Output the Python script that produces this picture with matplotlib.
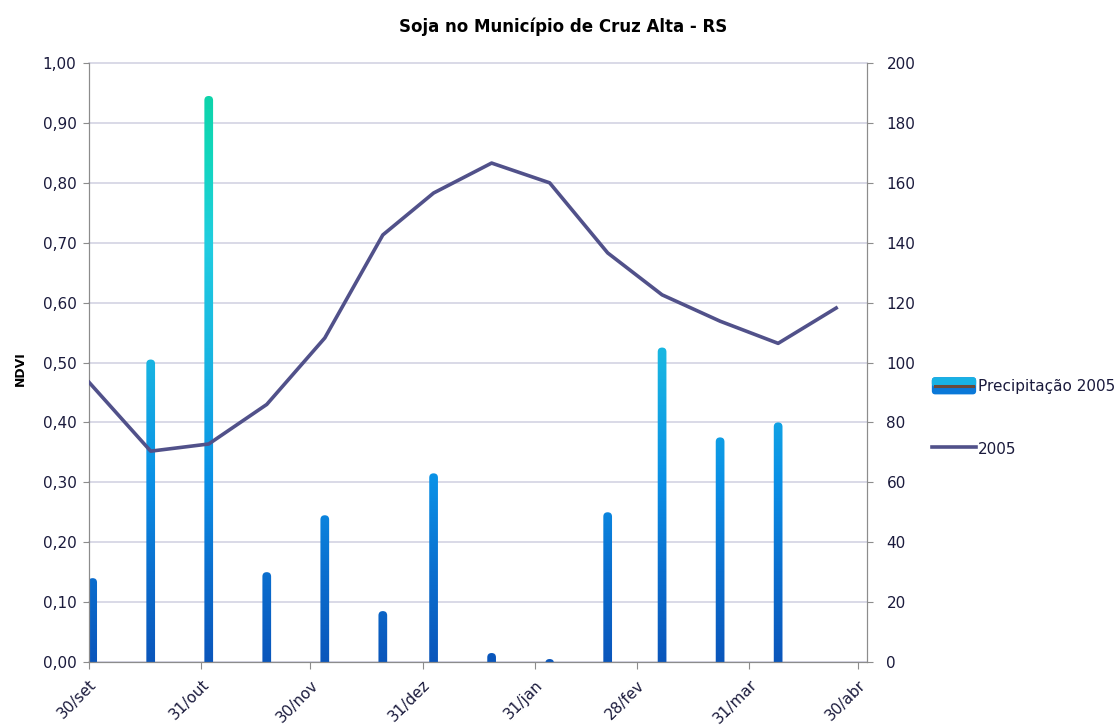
import numpy as np
import pandas as pd
import matplotlib
matplotlib.use('Agg')
import matplotlib.pyplot as plt
import matplotlib.dates as mdates
from matplotlib.patches import FancyBboxPatch
from matplotlib.lines import Line2D
from matplotlib.colors import LinearSegmentedColormap

plt.rcParams['font.family'] = ['DejaVu Sans']

# --- dados ---
ndvi_datas = pd.to_datetime(['2004-09-30', '2004-10-17', '2004-11-02', '2004-11-18', '2004-12-04',
                             '2004-12-20', '2005-01-03', '2005-01-19', '2005-02-04', '2005-02-20',
                             '2005-03-07', '2005-03-23', '2005-04-08', '2005-04-24'])
ndvi_2005 = [0.467, 0.352, 0.364, 0.430, 0.541, 0.713, 0.783, 0.833, 0.800, 0.683,
             0.613, 0.569, 0.532, 0.591]

chuva_datas = pd.to_datetime(['2004-10-01', '2004-10-17', '2004-11-02', '2004-11-18', '2004-12-04',
                              '2004-12-20', '2005-01-03', '2005-01-19', '2005-02-04', '2005-02-20',
                              '2005-03-07', '2005-03-23', '2005-04-08'])
chuva_2005 = [28, 101, 189, 30, 49, 17, 63, 3, 1, 50, 105, 75, 80]

tick_datas = pd.to_datetime(['2004-09-30', '2004-10-31', '2004-11-30', '2004-12-31',
                             '2005-01-31', '2005-02-28', '2005-03-31', '2005-04-30'])
tick_labels = ['30/set', '31/out', '30/nov', '31/dez', '31/jan', '28/fev', '31/mar', '30/abr']

ndvi_ticks = np.arange(0, 1.01, 0.1)
chuva_ticks = np.arange(0, 201, 20)

cor_linha = '#51518a'
cor_eixo = '#8c8c8c'
cor_texto = '#1a1a3c'
cor_grade = '#cfcfe0'

gradiente = LinearSegmentedColormap.from_list('chuva', [
    (0.00, '#0a56bb'), (0.15, '#0a6fcf'), (0.30, '#0a90e6'), (0.50, '#18b4e2'),
    (0.70, '#20cde0'), (0.85, '#12d6bc'), (1.00, '#0cd2a0')])

fig = plt.figure(figsize=(11.2, 7.27), dpi=100)
ax = fig.add_axes([0.0795, 0.0894, 0.6946, 0.8239])
ax2 = ax.twinx()
ax.set_zorder(ax2.get_zorder() + 1)
ax.patch.set_visible(False)

x0 = mdates.date2num(pd.Timestamp('2004-09-30'))
x1 = mdates.date2num(pd.Timestamp('2005-05-02 12:00'))
ax.set_xlim(x0, x1)
ax.set_ylim(0, 1)
ax2.set_ylim(0, 200)

# grade no eixo da direita (fica atras das barras)
ax2.set_axisbelow(True)
ax2.yaxis.grid(True, color=cor_grade, lw=1.1)
ax2.set_yticks(chuva_ticks)
for g in ax2.get_ygridlines():
    g.set_clip_on(False)

# barras de precipitacao com gradiente e topo arredondado
barras = ax2.bar(chuva_datas, chuva_2005, width=2.4, color='none', edgecolor='none')
p0 = ax2.transData.transform((x0, 0))
p1 = ax2.transData.transform((x0 + 1, 1))
aspecto = (p1[0] - p0[0]) / (p1[1] - p0[1])
grad = np.linspace(0, 1, 256).reshape(-1, 1)
for b in barras:
    bx, bw, bh = b.get_x(), b.get_width(), b.get_height()
    forma = FancyBboxPatch((bx, -10), bw, bh + 10,
                           boxstyle=f"round,pad=0,rounding_size={bw / 2}",
                           mutation_aspect=aspecto, facecolor='none', edgecolor='none')
    ax2.add_patch(forma)
    ax2.imshow(grad, extent=(x0, x1, 0, 200), origin='lower', aspect='auto',
               cmap=gradiente, vmin=0, vmax=1, clip_path=forma, zorder=2)
ax2.set_xlim(x0, x1)
ax2.set_ylim(0, 200)

# linha NDVI
ax.plot(ndvi_datas, ndvi_2005, color=cor_linha, lw=2.6, zorder=5)

# eixos
for a in (ax, ax2):
    for s in a.spines.values():
        s.set_color(cor_eixo)
    a.spines['top'].set_visible(False)

ax.set_yticks(ndvi_ticks)
ax.set_yticklabels([f"{v:.2f}".replace('.', ',') for v in ndvi_ticks])
ax.tick_params(axis='y', colors=cor_eixo, labelcolor=cor_texto, labelsize=11, length=4, pad=5)
ax2.tick_params(axis='y', colors=cor_eixo, labelcolor=cor_texto, labelsize=11, length=4, pad=10)

ax.set_xticks(mdates.date2num(tick_datas))
ax.set_xticklabels(tick_labels, rotation=45, ha='right', va='top', rotation_mode='anchor')
ax.tick_params(axis='x', colors=cor_eixo, labelcolor=cor_texto, labelsize=11, length=5, pad=6)
ax2.tick_params(axis='x', bottom=False, labelbottom=False)

ax.set_ylabel('NDVI', fontweight='bold', fontsize=9, color='black')
ax.yaxis.set_label_coords(-0.08, 0.49)

fig.text(0.503, 0.963, 'Soja no Município de Cruz Alta - RS', ha='center', va='center',
         fontsize=12, fontweight='bold', color='black')


# legenda: caixa com gradiente simplificado + traco marrom (como no Excel)
class HandlerChuva:
    def legend_artist(self, legend, orig_handle, fontsize, handlebox):
        x, y = handlebox.xdescent, handlebox.ydescent
        w, h = handlebox.width, handlebox.height
        base = FancyBboxPatch((-x, -y), w, h, boxstyle="round,pad=0,rounding_size=2.5",
                              facecolor='#0a78d8', edgecolor='none',
                              transform=handlebox.get_transform())
        topo = FancyBboxPatch((-x, -y + h * 0.45), w, h * 0.55,
                              boxstyle="round,pad=0,rounding_size=2.5",
                              facecolor='#18b2e4', edgecolor='none',
                              transform=handlebox.get_transform())
        traco = Line2D([-x + 2, -x + w - 2], [-y + h / 2, -y + h / 2], color='#6b4a3a', lw=2.2,
                       transform=handlebox.get_transform())
        handlebox.add_artist(base)
        handlebox.add_artist(topo)
        handlebox.add_artist(traco)
        return base


class Chuva:
    pass


h_linha = Line2D([], [], color=cor_linha, lw=2.6)
leg = ax.legend([Chuva(), h_linha], ['Precipitação 2005', '2005'],
                handler_map={Chuva: HandlerChuva()},
                loc='center left', bbox_to_anchor=(0.832, 0.426),
                bbox_transform=fig.transFigure, frameon=False, fontsize=11,
                handlelength=2.9, handleheight=1.35, handletextpad=0.1,
                labelspacing=3.0, borderpad=0, borderaxespad=0)
for t in leg.get_texts():
    t.set_color(cor_texto)

plt.savefig('out.png', dpi=100)
